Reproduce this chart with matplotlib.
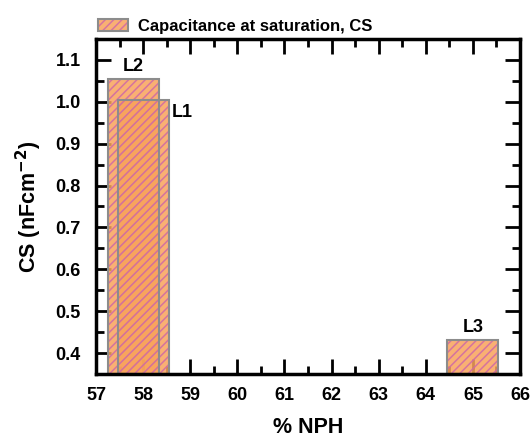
import numpy as np
import matplotlib
matplotlib.use('Agg')
from matplotlib import pyplot as plt
from matplotlib.patches import Patch
import matplotlib.ticker as ticker

plt.rcParams['font.family'] = ['Liberation Sans', 'DejaVu Sans']
plt.rcParams['font.weight'] = 'bold'
plt.rcParams['mathtext.default'] = 'bf'
plt.rcParams['hatch.linewidth'] = 1.1

# ----- Data ----- #
labels = ['L2', 'L1', 'L3']
nph = [57.8, 58.0, 65.0]          # % NPH
cs = [1.055, 1.005, 0.43]         # capacitance at saturation (nF cm^-2)
bar_w = 1.08

face_c = '#f8a35a'
hatch_c = '#cf68a6'
edge_c = '#8c8c8c'
fs = 13

fig = plt.figure(figsize=(5.32, 4.4), dpi=100)
ax = fig.add_axes([0.1805, 0.15, 0.797, 0.7614])
ax.set_axisbelow(True)

for x, y in zip(nph, cs):
    ax.bar(x, y - 0.35, bottom=0.35, width=bar_w, color=face_c, alpha=0.85,
           edgecolor=hatch_c, linewidth=0, hatch='////', zorder=1)
    ax.bar(x, y - 0.35, bottom=0.35, width=bar_w, facecolor='none',
           edgecolor=edge_c, linewidth=1.5, zorder=1.1)

# bar labels
ax.text(nph[0], cs[0] + 0.01, labels[0], ha='center', va='bottom', fontsize=fs, fontweight='bold')
ax.text(nph[1] + bar_w/2 + 0.06, cs[1] - 0.01, labels[1], ha='left', va='top', fontsize=fs, fontweight='bold')
ax.text(nph[2], cs[2] + 0.01, labels[2], ha='center', va='bottom', fontsize=fs, fontweight='bold')

ax.set_xlim(57, 66)
ax.set_ylim(0.35, 1.15)
ax.set_xticks(np.arange(57, 67))
ax.set_yticks(np.arange(0.4, 1.15, 0.1))
ax.yaxis.set_major_formatter(ticker.FormatStrFormatter('%.1f'))
ax.xaxis.set_minor_locator(ticker.AutoMinorLocator(n=2))
ax.yaxis.set_minor_locator(ticker.AutoMinorLocator(n=2))
ax.tick_params(which='both', direction='in', top=True, right=True, width=2.0, labelsize=fs)
ax.tick_params(which='major', length=11)
ax.tick_params(which='minor', length=6)
ax.tick_params(axis='x', pad=9)
ax.tick_params(axis='y', pad=11)
for axis in ['top', 'bottom', 'left', 'right']:
    ax.spines[axis].set_linewidth(2.5)

ax.set_xlabel('% NPH', fontsize=15.5, fontweight='bold', labelpad=10)
ax.set_ylabel(r'CS (nFcm$^{-2}$)', fontsize=15.5, fontweight='bold', labelpad=8)

handle = Patch(facecolor=face_c, edgecolor=hatch_c, hatch='////', linewidth=0, alpha=0.85)
frame = Patch(facecolor='none', edgecolor=edge_c, linewidth=1.5)
ax.legend([(handle, frame)], ['Capacitance at saturation, CS'], loc='lower left',
          bbox_to_anchor=(-0.015, 0.99), frameon=False, fontsize=12,
          handlelength=1.8, handleheight=0.75, borderaxespad=0.1, handletextpad=0.6)

plt.savefig('out.png', dpi=100)
